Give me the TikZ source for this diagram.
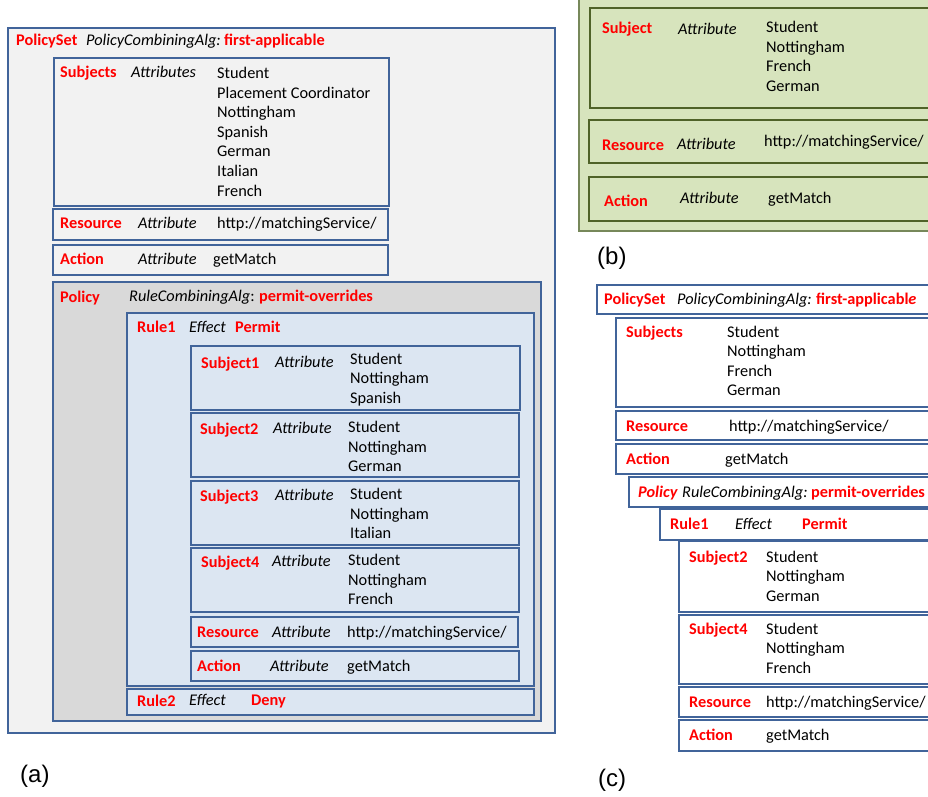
\documentclass[tikz,border=0pt]{standalone}
\usepackage{fontspec}
\setmainfont{Carlito}
\newfontfamily\labfont{Liberation Sans}
\definecolor{bordblue}{HTML}{41649A}
\definecolor{lgray}{HTML}{F2F2F2}
\definecolor{dgray}{HTML}{D9D9D9}
\definecolor{lblue}{HTML}{DCE6F2}
\definecolor{lgreen}{HTML}{D7E4BD}
\definecolor{gbord}{HTML}{4F6228}
\definecolor{gout}{HTML}{77885A}
\definecolor{tred}{HTML}{FF0000}
\newcommand\bsz{\fontsize{16.3}{19.6}\selectfont}
\newcommand\vl[1]{\begin{tabular}[t]{@{}l@{}}#1\end{tabular}}
\tikzset{
  bbox/.style={draw=bordblue, line width=1.8},
  gbox/.style={draw=gbord, line width=1.6, fill=lgreen},
  lab/.style={anchor=base west, inner sep=0, text=tred, font=\bsz\bfseries},
  att/.style={anchor=base west, inner sep=0, font=\bsz\itshape},
  val/.style={anchor=base west, inner sep=0, font=\bsz},
  subcap/.style={anchor=west, inner sep=0, font=\labfont\fontsize{24}{28}\selectfont},
}
\begin{document}
\begin{tikzpicture}[x=1pt,y=-1pt]
\useasboundingbox (0,0) rectangle (928,796);
\clip (0,0) rectangle (928,796);
\fill[white] (0,0) rectangle (928,796);
% ================= (a) =================
\draw[bbox, fill=lgray] (8,28) rectangle (555,733);
\node[lab] (aps) at (16,45) {PolicySet};
\node[att] (apca) at (86,45) {PolicyCombiningAlg:};
\node[lab] (apfa) at (224,45) {first-applicable};
% Subjects
\draw[bbox, fill=lgray] (54,58) rectangle (389,206);
\node[lab] (asub) at (60,77) {Subjects};
\node[att] (asubat) at (131,77) {Attributes};
\node[val] (asubv) at (217,78.5) {\vl{Student\\Placement Coordinator\\Nottingham\\Spanish\\German\\Italian\\French}};
% Resource
\draw[bbox, fill=lgray] (53,209) rectangle (388,240);
\node[lab] (ares) at (60,228) {Resource};
\node[att] (aresat) at (138,228) {Attribute};
\node[val] (aresv) at (217,228) {http://matchingService/};
% Action
\draw[bbox, fill=lgray] (53,245) rectangle (388,275);
\node[lab] (aact) at (60,264) {Action};
\node[att] (aactat) at (138,264) {Attribute};
\node[val] (aactv) at (213,264) {getMatch};
% Policy
\draw[bbox, fill=dgray] (53,282) rectangle (541,721);
\node[lab] (apol) at (60,302) {Policy};
\node[att] (arca) at (129,301) {RuleCombiningAlg\upshape:};
\node[lab] (apo) at (259,301) {permit-overrides};
% Rule1
\draw[bbox, fill=lblue] (127,313) rectangle (534,686);
\node[lab] (ar1) at (137,332) {Rule1};
\node[att] (ar1e) at (189,332) {Effect};
\node[lab] (ar1p) at (235,332) {Permit};
% Subject1
\draw[bbox, fill=lblue] (191,346) rectangle (520,410);
\node[lab] (as1) at (201,368) {Subject1};
\node[att] (as1at) at (275,367) {Attribute};
\node[val] (as1v) at (350,364) {\vl{Student\\Nottingham\\Spanish}};
% Subject2
\draw[bbox, fill=lblue] (191,413) rectangle (519,477);
\node[lab] (as2) at (200,434) {Subject2};
\node[att] (as2at) at (273,433) {Attribute};
\node[val] (as2v) at (348,432.5) {\vl{Student\\Nottingham\\German}};
% Subject3
\draw[bbox, fill=lblue] (191,481) rectangle (519,545);
\node[lab] (as3) at (200,501) {Subject3};
\node[att] (as3at) at (275,500) {Attribute};
\node[val] (as3v) at (350,499.5) {\vl{Student\\Nottingham\\Italian}};
% Subject4
\draw[bbox, fill=lblue] (191,548) rectangle (519,612);
\node[lab] (as4) at (201,567.5) {Subject4};
\node[att] (as4at) at (272,566) {Attribute};
\node[val] (as4v) at (348,565.5) {\vl{Student\\Nottingham\\French}};
% Resource in rule
\draw[bbox, fill=lblue] (191,617) rectangle (518,647);
\node[lab] (arr) at (197,637.5) {Resource};
\node[att] (arrat) at (272,637) {Attribute};
\node[val] (arrv) at (347,637) {http://matchingService/};
% Action in rule
\draw[bbox, fill=lblue] (191,651) rectangle (519,681);
\node[lab] (ara) at (197,671) {Action};
\node[att] (araat) at (270,671) {Attribute};
\node[val] (arav) at (347,671) {getMatch};
% Rule2
\draw[bbox, fill=lblue] (127,689) rectangle (534,715);
\node[lab] (ar2) at (137,706) {Rule2};
\node[att] (ar2e) at (189,705) {Effect};
\node[lab] (ar2d) at (251,705) {Deny};
\node[subcap] (capa) at (20,776) {(a)};
% ================= (b) =================
\draw[draw=gout, line width=1.2, fill=lgreen] (579,-10) rectangle (940,231);
\draw[gbox] (590,8) rectangle (940,108);
\node[lab] (bsub) at (602,33) {Subject};
\node[att] (bsubat) at (678,34) {Attribute};
\node[val] (bsubv) at (766,32.5) {\vl{Student\\Nottingham\\French\\German}};
\draw[gbox] (589,120) rectangle (940,163);
\node[lab] (bres) at (602,150) {Resource};
\node[att] (bresat) at (677,149) {Attribute};
\node[val] (bresv) at (764,146) {http://matchingService/};
\draw[gbox] (589,177) rectangle (940,221);
\node[lab] (bact) at (604,206) {Action};
\node[att] (bactat) at (680,203) {Attribute};
\node[val] (bactv) at (768,203) {getMatch};
\node[subcap] (capb) at (597,258.7) {(b)};
% ================= (c) =================
\draw[bbox, fill=white] (597,285) rectangle (940,314);
\node[lab] (cps) at (604,304) {PolicySet};
\node[att] (cpca) at (677,304) {PolicyCombiningAlg:};
\node[lab] (cfa) at (816,304) {first-applicabl\itshape e};
\draw[bbox, fill=white] (616,318) rectangle (940,407);
\node[lab] (csub) at (626,337) {Subjects};
\node[val] (csubv) at (727,337) {\vl{Student\\Nottingham\\French\\German}};
\draw[bbox, fill=white] (616,411) rectangle (940,440);
\node[lab] (cres) at (626,431) {Resource};
\node[val] (cresv) at (729,431) {http://matchingService/};
\draw[bbox, fill=white] (616,444) rectangle (940,474);
\node[lab] (cact) at (626,464) {Action};
\node[val] (cactv) at (725,464) {getMatch};
\draw[bbox, fill=white] (629,477) rectangle (940,507);
\node[lab, font=\bsz\bfseries\itshape] (cpol) at (638,497) {Policy};
\node[att] (crca) at (682,497) {RuleCombiningAlg:};
\node[lab] (cpo) at (811,497) {permit-overrides};
\draw[bbox, fill=white] (660,509) rectangle (940,540);
\node[lab] (cr1) at (670,529) {Rule1};
\node[att] (cr1e) at (735,529) {Effect};
\node[lab] (cr1p) at (802,529) {Permit};
\draw[bbox, fill=white] (679,541) rectangle (940,612);
\node[lab] (cs2) at (689,562) {Subject2};
\node[val] (cs2v) at (766,562) {\vl{Student\\Nottingham\\German}};
\draw[bbox, fill=white] (679,615) rectangle (940,684);
\node[lab] (cs4) at (689,634) {Subject4};
\node[val] (cs4v) at (766,634) {\vl{Student\\Nottingham\\French}};
\draw[bbox, fill=white] (679,687) rectangle (940,717);
\node[lab] (crr) at (689,707) {Resource};
\node[val] (crrv) at (766,707) {http://matchingService/};
\draw[bbox, fill=white] (679,720) rectangle (940,751);
\node[lab] (cra) at (689,740) {Action};
\node[val] (crav) at (766,740) {getMatch};
\node[subcap] (capc) at (598,780) {(c)};
\end{tikzpicture}
\end{document}
